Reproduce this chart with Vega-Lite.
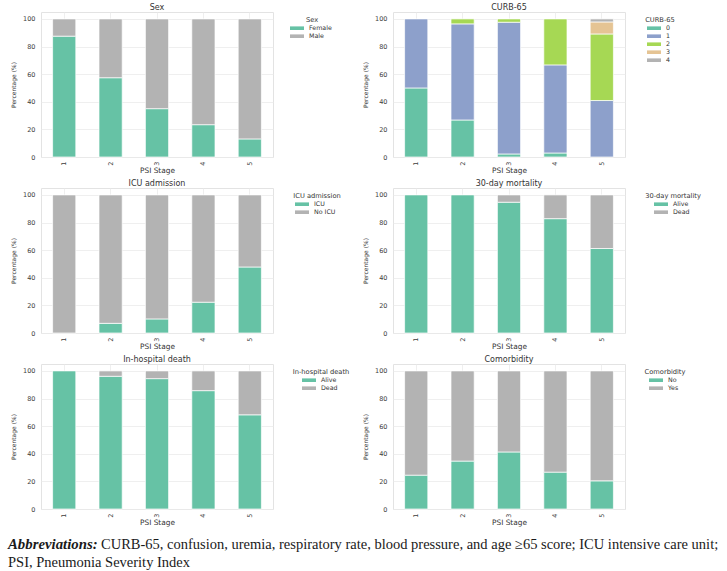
{
  "$schema": "https://vega.github.io/schema/vega-lite/v6.json",
  "background": "white",
  "padding": {"left": 8, "top": 3, "right": 2, "bottom": 0},
  "datasets": {
    "psi": [
      {"panel": "Sex", "stage": 1, "category": "Female", "pct": 87.5},
      {"panel": "Sex", "stage": 2, "category": "Female", "pct": 57.4},
      {"panel": "Sex", "stage": 3, "category": "Female", "pct": 35.0},
      {"panel": "Sex", "stage": 4, "category": "Female", "pct": 23.4},
      {"panel": "Sex", "stage": 5, "category": "Female", "pct": 13.1},
      {"panel": "Sex", "stage": 1, "category": "Male", "pct": 12.5},
      {"panel": "Sex", "stage": 2, "category": "Male", "pct": 42.6},
      {"panel": "Sex", "stage": 3, "category": "Male", "pct": 65.0},
      {"panel": "Sex", "stage": 4, "category": "Male", "pct": 76.6},
      {"panel": "Sex", "stage": 5, "category": "Male", "pct": 86.9},
      {"panel": "CURB-65", "stage": 1, "category": "0", "pct": 50.0},
      {"panel": "CURB-65", "stage": 1, "category": "1", "pct": 50.0},
      {"panel": "CURB-65", "stage": 2, "category": "0", "pct": 26.8},
      {"panel": "CURB-65", "stage": 2, "category": "1", "pct": 69.6},
      {"panel": "CURB-65", "stage": 2, "category": "2", "pct": 3.6},
      {"panel": "CURB-65", "stage": 3, "category": "0", "pct": 2.2},
      {"panel": "CURB-65", "stage": 3, "category": "1", "pct": 95.4},
      {"panel": "CURB-65", "stage": 3, "category": "2", "pct": 2.4},
      {"panel": "CURB-65", "stage": 4, "category": "0", "pct": 2.9},
      {"panel": "CURB-65", "stage": 4, "category": "1", "pct": 63.8},
      {"panel": "CURB-65", "stage": 4, "category": "2", "pct": 33.3},
      {"panel": "CURB-65", "stage": 5, "category": "1", "pct": 40.9},
      {"panel": "CURB-65", "stage": 5, "category": "2", "pct": 48.2},
      {"panel": "CURB-65", "stage": 5, "category": "3", "pct": 8.7},
      {"panel": "CURB-65", "stage": 5, "category": "4", "pct": 2.2},
      {"panel": "ICU admission", "stage": 2, "category": "ICU", "pct": 7.0},
      {"panel": "ICU admission", "stage": 3, "category": "ICU", "pct": 10.2},
      {"panel": "ICU admission", "stage": 4, "category": "ICU", "pct": 22.3},
      {"panel": "ICU admission", "stage": 5, "category": "ICU", "pct": 47.8},
      {"panel": "ICU admission", "stage": 1, "category": "No ICU", "pct": 100},
      {"panel": "ICU admission", "stage": 2, "category": "No ICU", "pct": 93.0},
      {"panel": "ICU admission", "stage": 3, "category": "No ICU", "pct": 89.8},
      {"panel": "ICU admission", "stage": 4, "category": "No ICU", "pct": 77.7},
      {"panel": "ICU admission", "stage": 5, "category": "No ICU", "pct": 52.2},
      {"panel": "30-day mortality", "stage": 1, "category": "Alive", "pct": 100},
      {"panel": "30-day mortality", "stage": 2, "category": "Alive", "pct": 100},
      {"panel": "30-day mortality", "stage": 3, "category": "Alive", "pct": 94.7},
      {"panel": "30-day mortality", "stage": 4, "category": "Alive", "pct": 82.8},
      {"panel": "30-day mortality", "stage": 5, "category": "Alive", "pct": 61.2},
      {"panel": "30-day mortality", "stage": 3, "category": "Dead", "pct": 5.3},
      {"panel": "30-day mortality", "stage": 4, "category": "Dead", "pct": 17.2},
      {"panel": "30-day mortality", "stage": 5, "category": "Dead", "pct": 38.8},
      {"panel": "In-hospital death", "stage": 1, "category": "Alive", "pct": 100},
      {"panel": "In-hospital death", "stage": 2, "category": "Alive", "pct": 96.1},
      {"panel": "In-hospital death", "stage": 3, "category": "Alive", "pct": 94.4},
      {"panel": "In-hospital death", "stage": 4, "category": "Alive", "pct": 85.7},
      {"panel": "In-hospital death", "stage": 5, "category": "Alive", "pct": 68.2},
      {"panel": "In-hospital death", "stage": 2, "category": "Dead", "pct": 3.9},
      {"panel": "In-hospital death", "stage": 3, "category": "Dead", "pct": 5.6},
      {"panel": "In-hospital death", "stage": 4, "category": "Dead", "pct": 14.3},
      {"panel": "In-hospital death", "stage": 5, "category": "Dead", "pct": 31.8},
      {"panel": "Comorbidity", "stage": 1, "category": "No", "pct": 24.5},
      {"panel": "Comorbidity", "stage": 2, "category": "No", "pct": 34.7},
      {"panel": "Comorbidity", "stage": 3, "category": "No", "pct": 41.3},
      {"panel": "Comorbidity", "stage": 4, "category": "No", "pct": 26.7},
      {"panel": "Comorbidity", "stage": 5, "category": "No", "pct": 20.4},
      {"panel": "Comorbidity", "stage": 1, "category": "Yes", "pct": 75.5},
      {"panel": "Comorbidity", "stage": 2, "category": "Yes", "pct": 65.3},
      {"panel": "Comorbidity", "stage": 3, "category": "Yes", "pct": 58.7},
      {"panel": "Comorbidity", "stage": 4, "category": "Yes", "pct": 73.3},
      {"panel": "Comorbidity", "stage": 5, "category": "Yes", "pct": 79.6}
    ],
    "caption": [
      {"line": 1, "part": "lead", "text": "Abbreviations:"},
      {"line": 1, "part": "body", "text": "CURB-65, confusion, uremia, respiratory rate, blood pressure, and age ≥65 score; ICU intensive care unit;"},
      {"line": 2, "part": "body2", "text": "PSI, Pneumonia Severity Index"}
    ]
  },
  "vconcat": [
    {
      "columns": 2,
      "spacing": {"row": 31, "column": 120},
      "bounds": "flush",
      "resolve": {"scale": {"color": "independent"}},
      "concat": [
        {
          "title": "Sex",
          "width": 232, "height": 145,
          "data": {"name": "psi"},
          "transform": [{"filter": "datum.panel === 'Sex'"}],
          "mark": {"type": "bar", "stroke": "white", "strokeWidth": 0.7},
          "encoding": {
            "x": {"field": "stage", "type": "ordinal", "title": "PSI Stage", "scale": {"paddingInner": 0.5, "paddingOuter": 0.25}},
            "y": {"field": "pct", "type": "quantitative", "stack": "zero", "title": "Percentage (%)", "scale": {"domain": [0, 105], "nice": false}, "axis": {"values": [0, 20, 40, 60, 80, 100]}},
            "color": {"field": "category", "type": "nominal", "title": "Sex", "scale": {"domain": ["Female", "Male"], "range": ["#66c2a5", "#b3b3b3"]}},
            "order": {"field": "category", "sort": "ascending"}
          }
        },
        {
          "title": "CURB-65",
          "width": 232, "height": 145,
          "data": {"name": "psi"},
          "transform": [{"filter": "datum.panel === 'CURB-65'"}],
          "mark": {"type": "bar", "stroke": "white", "strokeWidth": 0.7},
          "encoding": {
            "x": {"field": "stage", "type": "ordinal", "title": "PSI Stage", "scale": {"paddingInner": 0.5, "paddingOuter": 0.25}},
            "y": {"field": "pct", "type": "quantitative", "stack": "zero", "title": "Percentage (%)", "scale": {"domain": [0, 105], "nice": false}, "axis": {"values": [0, 20, 40, 60, 80, 100]}},
            "color": {"field": "category", "type": "nominal", "title": "CURB-65", "scale": {"domain": ["0", "1", "2", "3", "4"], "range": ["#66c2a5", "#8da0cb", "#a6d854", "#e5c494", "#b3b3b3"]}},
            "order": {"field": "category", "sort": "ascending"}
          }
        },
        {
          "title": "ICU admission",
          "width": 232, "height": 145,
          "data": {"name": "psi"},
          "transform": [{"filter": "datum.panel === 'ICU admission'"}],
          "mark": {"type": "bar", "stroke": "white", "strokeWidth": 0.7},
          "encoding": {
            "x": {"field": "stage", "type": "ordinal", "title": "PSI Stage", "scale": {"paddingInner": 0.5, "paddingOuter": 0.25}},
            "y": {"field": "pct", "type": "quantitative", "stack": "zero", "title": "Percentage (%)", "scale": {"domain": [0, 105], "nice": false}, "axis": {"values": [0, 20, 40, 60, 80, 100]}},
            "color": {"field": "category", "type": "nominal", "title": "ICU admission", "scale": {"domain": ["ICU", "No ICU"], "range": ["#66c2a5", "#b3b3b3"]}},
            "order": {"field": "category", "sort": "ascending"}
          }
        },
        {
          "title": "30-day mortality",
          "width": 232, "height": 145,
          "data": {"name": "psi"},
          "transform": [{"filter": "datum.panel === '30-day mortality'"}],
          "mark": {"type": "bar", "stroke": "white", "strokeWidth": 0.7},
          "encoding": {
            "x": {"field": "stage", "type": "ordinal", "title": "PSI Stage", "scale": {"paddingInner": 0.5, "paddingOuter": 0.25}},
            "y": {"field": "pct", "type": "quantitative", "stack": "zero", "title": "Percentage (%)", "scale": {"domain": [0, 105], "nice": false}, "axis": {"values": [0, 20, 40, 60, 80, 100]}},
            "color": {"field": "category", "type": "nominal", "title": "30-day mortality", "scale": {"domain": ["Alive", "Dead"], "range": ["#66c2a5", "#b3b3b3"]}},
            "order": {"field": "category", "sort": "ascending"}
          }
        },
        {
          "title": "In-hospital death",
          "width": 232, "height": 145,
          "data": {"name": "psi"},
          "transform": [{"filter": "datum.panel === 'In-hospital death'"}],
          "mark": {"type": "bar", "stroke": "white", "strokeWidth": 0.7},
          "encoding": {
            "x": {"field": "stage", "type": "ordinal", "title": "PSI Stage", "scale": {"paddingInner": 0.5, "paddingOuter": 0.25}},
            "y": {"field": "pct", "type": "quantitative", "stack": "zero", "title": "Percentage (%)", "scale": {"domain": [0, 105], "nice": false}, "axis": {"values": [0, 20, 40, 60, 80, 100]}},
            "color": {"field": "category", "type": "nominal", "title": "In-hospital death", "scale": {"domain": ["Alive", "Dead"], "range": ["#66c2a5", "#b3b3b3"]}},
            "order": {"field": "category", "sort": "ascending"}
          }
        },
        {
          "title": "Comorbidity",
          "width": 232, "height": 145,
          "data": {"name": "psi"},
          "transform": [{"filter": "datum.panel === 'Comorbidity'"}],
          "mark": {"type": "bar", "stroke": "white", "strokeWidth": 0.7},
          "encoding": {
            "x": {"field": "stage", "type": "ordinal", "title": "PSI Stage", "scale": {"paddingInner": 0.5, "paddingOuter": 0.25}},
            "y": {"field": "pct", "type": "quantitative", "stack": "zero", "title": "Percentage (%)", "scale": {"domain": [0, 105], "nice": false}, "axis": {"values": [0, 20, 40, 60, 80, 100]}},
            "color": {"field": "category", "type": "nominal", "title": "Comorbidity", "scale": {"domain": ["No", "Yes"], "range": ["#66c2a5", "#b3b3b3"]}},
            "order": {"field": "category", "sort": "ascending"}
          }
        }
      ]
    },
    {
      "width": 715,
      "height": 36,
      "view": {"stroke": null},
      "data": {"name": "caption"},
      "layer": [
        {
          "transform": [{"filter": "datum.part === 'lead'"}],
          "mark": {"type": "text", "align": "left", "font": "Liberation Serif", "fontSize": 14.8, "fontStyle": "italic", "fontWeight": "bold", "color": "#1a1a1a"},
          "encoding": {
            "x": {"value": -33},
            "y": {"field": "line", "type": "ordinal", "axis": null},
            "text": {"field": "text"}
          }
        },
        {
          "transform": [{"filter": "datum.part === 'body'"}],
          "mark": {"type": "text", "align": "left", "font": "Liberation Serif", "fontSize": 14.5, "color": "#1a1a1a", "dx": 93},
          "encoding": {
            "x": {"value": -33},
            "y": {"field": "line", "type": "ordinal", "axis": null},
            "text": {"field": "text"}
          }
        },
        {
          "transform": [{"filter": "datum.part === 'body2'"}],
          "mark": {"type": "text", "align": "left", "font": "Liberation Serif", "fontSize": 14.5, "color": "#1a1a1a"},
          "encoding": {
            "x": {"value": -33},
            "y": {"field": "line", "type": "ordinal", "axis": null},
            "text": {"field": "text"}
          }
        }
      ]
    }
  ],
  "spacing": 9,
  "config": {
    "font": "DejaVu Sans",
    "view": {"stroke": "#e3e3e3", "strokeWidth": 1},
    "axis": {
      "grid": true,
      "gridColor": "#ebebeb",
      "gridWidth": 0.8,
      "domain": false,
      "ticks": false,
      "labelFontSize": 6.5,
      "labelColor": "#3c3c3c",
      "titleFontWeight": "normal",
      "titleColor": "#333333"
    },
    "axisX": {"labelAngle": -90, "bandPosition": 0.5, "titleFontSize": 7.4, "titlePadding": 1, "labelPadding": 4},
    "axisY": {"titleFontSize": 6, "titlePadding": 6, "labelPadding": 6},
    "title": {"fontSize": 8, "fontWeight": "normal", "color": "#333333", "offset": 0.5, "frame": "group"},
    "legend": {
      "titleFontSize": 6.7,
      "titleFontWeight": "normal",
      "titleColor": "#333333",
      "titleAnchor": "middle",
      "titlePadding": 0.5,
      "labelFontSize": 6.3,
      "labelColor": "#333333",
      "symbolType": "M-1.75,-0.45L1.75,-0.45L1.75,0.45L-1.75,0.45Z",
      "symbolSize": 64,
      "symbolStrokeWidth": 0,
      "labelOffset": 8,
      "rowPadding": 0,
      "padding": 5,
      "offset": 15
    }
  }
}
